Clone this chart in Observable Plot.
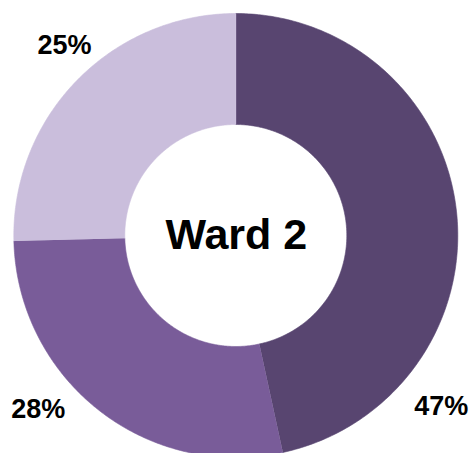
<!DOCTYPE html>
<html>
<head>
<meta charset="utf-8">
<script src="https://cdn.jsdelivr.net/npm/d3@7"></script>
<script src="https://cdn.jsdelivr.net/npm/@observablehq/plot@0.6"></script>
<style>
  html, body { margin: 0; padding: 0; background: #fff; }
  #chart { width: 471px; height: 453px; }
</style>
</head>
<body>
<div id="chart"></div>
<script>
// ---- data ----
const categories = ["Segment 1", "Segment 2", "Segment 3"];
const values = [46.6, 28.0, 25.4];
const valueLabels = ["47%", "28%", "25%"];
const centerTitle = "Ward 2";

// ---- style / layout ----
const colors = ["#584570", "#795c99", "#cabedc"];
const W = 471, H = 453;
const cx = 235.3, cy = 235, R = 222, r = 111;
const labelAngleDeg = [129.7, 228.7, 318.0];
const labelRadius = [267, 263, 256];
const font = "'Liberation Sans', Arial, Helvetica, sans-serif";

// ---- layout computation ----
const pie = d3.pie().sort(null).value(d => d.value)(
  categories.map((c, i) => ({category: c, value: values[i]}))
);
const pts = [];
pie.forEach(s => {
  const n = 200;
  for (let k = 0; k <= n; k++) {
    const a = s.startAngle + (s.endAngle - s.startAngle) * k / n;
    pts.push({category: s.data.category, x: cx + R * Math.sin(a), y: cy - R * Math.cos(a)});
  }
  for (let k = n; k >= 0; k--) {
    const a = s.startAngle + (s.endAngle - s.startAngle) * k / n;
    pts.push({category: s.data.category, x: cx + r * Math.sin(a), y: cy - r * Math.cos(a)});
  }
});
const labels = categories.map((c, i) => {
  const a = labelAngleDeg[i] * Math.PI / 180;
  return {text: valueLabels[i], x: cx + labelRadius[i] * Math.sin(a), y: cy - labelRadius[i] * Math.cos(a)};
});

const chart = Plot.plot({
  width: W, height: H,
  margin: 0,
  style: {background: "#fff", fontFamily: font, overflow: "hidden"},
  x: {domain: [0, W], range: [0, W], axis: null},
  y: {domain: [0, H], range: [0, H], axis: null},
  color: {domain: categories, range: colors},
  marks: [
    Plot.line(pts, {x: "x", y: "y", z: "category", fill: "category", stroke: "category", strokeWidth: 0.6, curve: "linear"}),
    Plot.text(labels, {x: "x", y: "y", text: "text", fontSize: 27, fontWeight: "bold", fill: "#000", fontFamily: font}),
    Plot.text([centerTitle], {x: () => cx + 0.5, y: () => cy, text: d => d, fontSize: 43, fontWeight: "bold", fill: "#000", fontFamily: font})
  ]
});
document.getElementById("chart").appendChild(chart);
</script>
</body>
</html>
